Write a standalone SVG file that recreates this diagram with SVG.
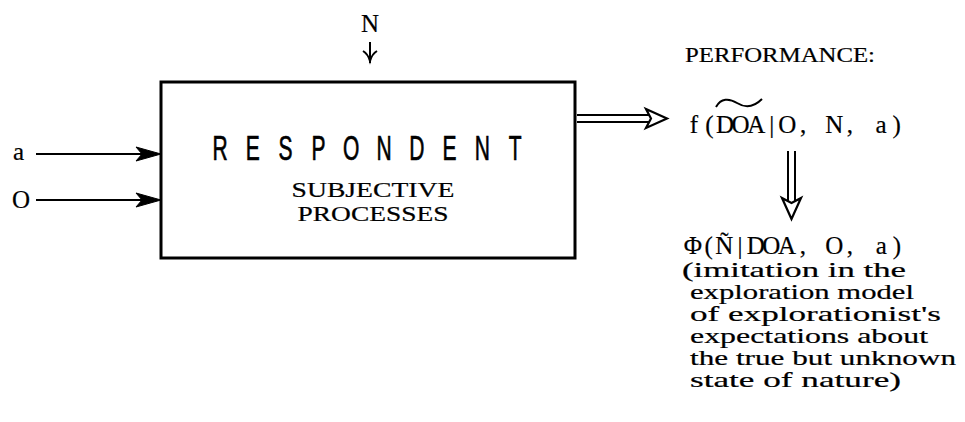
<svg xmlns="http://www.w3.org/2000/svg" width="965" height="422" viewBox="0 0 965 422">
<style>
.tw{font-family:"Liberation Serif","Times New Roman",serif;fill:#000;stroke:#000;stroke-width:0.2}
.big{font-size:25px}
.mid{font-size:22px}
.sub{font-size:21px}
.small{font-size:21px}
.cond{font-family:"Liberation Sans",Arial,sans-serif;font-size:35px;fill:#000;stroke:#000;stroke-width:0.7}
.ln{stroke:#000;stroke-width:2;fill:none}
.head{fill:#000;stroke:#000;stroke-width:1}
.dbl{fill:#fff;stroke:#000;stroke-width:2.2}
</style>
<rect width="965" height="422" fill="#fff"/>
<g id="respondent">
<rect x="161" y="82" width="414" height="176" fill="#fff" stroke="#000" stroke-width="3"/>
<text class="cond" transform="translate(0,160) scale(0.6,1)" text-anchor="middle" x="366.7 421.3 476 530.7 585.3 640 694.7 749.3 804 858.7" y="0">RESPONDENT</text>
<text class="tw sub" x="373" y="197" text-anchor="middle" textLength="163" lengthAdjust="spacingAndGlyphs">SUBJECTIVE</text>
<text class="tw sub" x="373" y="221" text-anchor="middle" textLength="151" lengthAdjust="spacingAndGlyphs">PROCESSES</text>
</g>
<g id="input-N">
<text class="tw big" x="370" y="32" text-anchor="middle">N</text>
</g>
<g id="input-a">
<text class="tw big" x="13" y="160">a</text>
</g>
<g id="input-O">
<text class="tw big" x="12" y="208">O</text>
</g>
<g id="performance">
<text class="tw mid" x="685" y="62" textLength="190" lengthAdjust="spacingAndGlyphs">PERFORMANCE:</text>
<text class="tw big" text-anchor="middle" y="133" x="693.8 709.4 725 740.6 756.2 771.8 787.4 803 818.6 834.2 849.8 865.4 881 896.6">f(DOA|O, N, a)</text>
<path d="M716,107 C721,98 729,98 737,103 C745,108 753,108 762,99" fill="none" stroke="#000" stroke-width="2"/>
</g>
<g id="expectations">
<text class="tw big" text-anchor="middle" y="254" x="692.9 708.6 724.3 740 755.7 771.4 787.1 802.8 818.5 834.2 849.9 865.6 881.3 897">Φ(Ñ|DOA, O, a)</text>
<text class="tw small" x="682" y="277" textLength="224" lengthAdjust="spacingAndGlyphs">(imitation in the</text>
<text class="tw small" x="690" y="299" textLength="224" lengthAdjust="spacingAndGlyphs">exploration model</text>
<text class="tw small" x="690" y="321" textLength="251" lengthAdjust="spacingAndGlyphs">of explorationist's</text>
<text class="tw small" x="690" y="343" textLength="238" lengthAdjust="spacingAndGlyphs">expectations about</text>
<text class="tw small" x="690" y="365" textLength="266" lengthAdjust="spacingAndGlyphs">the true but unknown</text>
<text class="tw small" x="690" y="387" textLength="211" lengthAdjust="spacingAndGlyphs">state of nature)</text>
</g>
<g id="connectors">
<line class="ln" x1="36" y1="154" x2="145" y2="154"/>
<polygon class="head" points="136,147 161,154 136,161 142,154"/>
<line class="ln" x1="36" y1="200" x2="145" y2="200"/>
<polygon class="head" points="136,193 161,200 136,207 142,200"/>
<line class="ln" x1="370" y1="42" x2="370" y2="63" stroke-width="1.8"/>
<path class="ln" d="M363,51 Q368,54 370,61 Q372,54 377,51" stroke-width="1.8"/>
<line class="ln" x1="577" y1="115" x2="650" y2="115"/>
<line class="ln" x1="577" y1="122" x2="650" y2="122"/>
<polygon class="dbl" points="646,109 667,118.5 646,128 651,118.5"/>
<line class="ln" x1="788" y1="151" x2="788" y2="202"/>
<line class="ln" x1="795" y1="151" x2="795" y2="202"/>
<polygon class="dbl" points="782,198 791.5,219 801,198 791.5,203"/>
</g>
</svg>
